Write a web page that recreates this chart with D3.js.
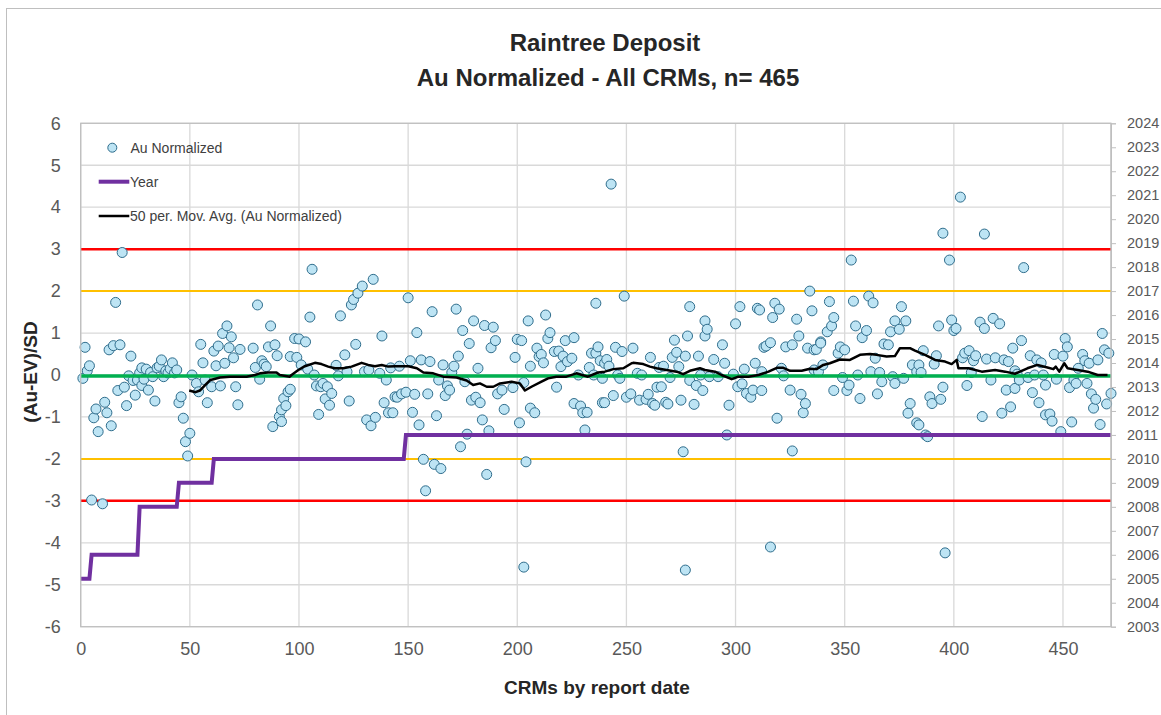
<!DOCTYPE html>
<html><head><meta charset="utf-8">
<script src="https://cdn.jsdelivr.net/npm/d3@7"></script>
<style>
html,body{margin:0;padding:0;background:#fff;}
svg{display:block;font-family:"Liberation Sans",Arial,sans-serif;}
</style></head>
<body><svg id="chart" width="1161" height="715"></svg>
<script>
// ---------- DATA ----------
const titleLines = ["Raintree Deposit", "Au Normalized - All CRMs, n= 465"];
const xTicks = [0,50,100,150,200,250,300,350,400,450];
const yTicks = [-6,-5,-4,-3,-2,-1,0,1,2,3,4,5,6];
const yearTicks = d3.range(2003, 2025);

// CRM index (report-date order) and normalized Au values
const crmIdx = [1,2,3,4,5,6,7,8,10,11,12,13,14,15,16,17,18,19,20,21,22,23,24,25,26,27,28,28,29,30,31,32,33,34,35,36,37,38,39,40,41,42,43,44,45,46,47,48,49,
50,51,53,54,55,56,57,58,60,61,62,63,64,65,66,67,68,69,70,71,72,73,79,80,81,82,83,84,85,86,87,88,89,90,91,92,92,93,94,95,
96,96,98,99,100,101,103,104,105,106,107,108,109,110,111,112,113,114,115,117,118,119,121,122,123,124,125,126,127,129,130,131,132,133,134,135,137,138,139,140,141,142,143,144,
145,146,147,149,150,151,152,153,154,155,156,157,158,159,160,161,162,163,164,165,166,167,168,169,170,171,172,173,174,175,176,177,178,179,180,181,182,183,184,185,186,187,188,189,190,
191,193,194,198,199,200,201,202,203,203,204,205,206,206,208,209,210,211,212,213,214,215,217,218,219,220,221,222,223,225,226,226,228,229,230,231,232,233,234,235,236,236,237,238,239,240,243,
239,240,241,242,244,245,246,247,248,249,250,252,253,255,256,257,259,260,261,262,263,264,265,266,267,268,269,270,271,272,273,274,275,276,277,277,278,279,279,281,282,283,284,285,286,286,287,
288,290,292,294,295,296,297,299,300,301,302,303,304,305,307,308,309,310,311,312,312,313,314,316,316,317,318,319,320,321,322,323,325,326,326,328,329,330,331,332,333,334,335,336,
336,337,338,339,339,340,342,343,344,345,345,347,348,349,350,351,352,353,354,355,356,357,358,360,361,362,363,364,365,366,367,368,370,371,372,373,373,375,376,377,378,379,380,381,383,383,384,
384,385,386,387,388,389,390,391,392,393,394,395,395,396,398,399,400,401,403,404,405,406,407,408,409,410,412,413,414,414,415,417,418,419,421,422,423,424,425,426,427,428,428,429,430,431,432,
434,435,436,437,438,439,440,441,442,442,444,445,446,447,449,450,451,452,453,454,455,456,457,459,460,461,462,463,464,465,466,467,468,469,470,471,472];
const auNorm = [-0.08,0.66,0.10,0.22,-2.98,-1.02,-0.81,-1.35,-3.07,-0.65,-0.90,0.60,-1.21,0.70,1.73,-0.37,0.72,2.92,-0.29,-0.73,-0.02,0.45,-0.13,-0.48,-0.12,0.05,0.17,-0.25,-0.10,0.14,-0.36,0.06,-0.04,-0.62,0.17,0.21,0.36,-0.04,0.10,0.05,0.15,0.29,0.05,0.12,-0.66,-0.52,-1.03,-1.59,-1.93,
-1.39,0.00,-0.20,-0.40,0.73,0.29,-0.12,-0.66,-0.28,0.57,0.22,0.69,-0.26,0.99,0.28,1.17,0.65,0.91,0.41,-0.28,-0.71,0.61,0.64,0.18,1.67,-0.10,0.34,0.26,0.20,0.67,1.17,-1.23,0.72,0.46,-0.99,-0.83,-1.11,-0.56,-0.73,-0.40,
0.44,-0.34,0.87,0.42,0.86,0.24,0.79,0.14,1.38,2.52,0.00,-0.26,-0.94,-0.28,-0.20,-0.57,-0.28,-0.72,-0.44,0.23,-0.02,1.41,0.48,0.08,-0.62,1.67,1.80,0.73,1.95,2.12,0.08,-1.07,0.12,-1.21,2.28,-1.01,0.04,0.93,-0.66,-0.12,-0.90,0.17,-0.90,-0.52,
-0.53,0.21,-0.45,-0.41,1.84,0.34,-0.89,-0.46,1.01,-1.19,0.36,-2.01,-2.76,-0.45,0.32,1.51,-2.13,-0.97,-0.12,-2.23,0.24,-0.49,-0.26,-0.36,0.06,0.21,1.57,0.45,-1.71,1.06,-0.16,-1.41,0.75,-0.60,1.29,-0.53,0.16,-0.66,-1.07,1.18,-2.37,-1.33,0.65,1.14,0.82,
-0.45,-0.36,-0.82,-0.30,0.42,0.85,-1.14,0.82,-0.18,-4.58,-2.07,1.29,0.21,-0.79,-0.90,0.64,0.44,0.49,0.29,1.43,0.87,1.01,0.56,-0.29,0.57,0.20,0.45,0.82,0.32,0.40,0.89,-0.68,0.00,-0.74,-0.90,-1.31,-0.89,0.18,0.52,0.00,0.52,1.71,0.67,0.34,-0.66,0.28,4.55,
-0.08,-0.66,0.37,0.21,-0.49,0.66,0.00,-0.08,0.56,1.88,-0.53,-0.45,0.64,0.04,-0.60,0.00,-0.58,-0.46,0.42,-0.68,-0.72,-0.29,0.18,-0.28,0.21,-0.65,-0.69,-0.06,0.42,0.83,0.54,0.20,-0.60,-1.83,0.45,-4.65,0.93,1.63,-0.13,-0.70,-0.25,0.45,0.00,-0.37,1.29,0.93,1.09,
-0.04,0.37,-0.04,0.72,0.28,-1.43,-0.72,0.02,1.22,-0.28,1.63,-0.21,0.14,-0.44,-0.53,-0.36,0.28,1.59,1.55,0.08,-0.37,0.66,0.69,0.77,-4.10,1.37,1.71,-1.03,1.57,0.16,-0.02,0.67,-0.36,0.72,-1.81,1.33,0.93,-0.46,-0.90,-0.68,0.64,2.00,1.53,0.60,
0.12,0.61,0.08,0.79,0.76,0.24,1.03,1.75,1.17,1.37,-0.37,0.52,0.67,-0.06,0.60,-0.37,-0.24,2.74,1.76,1.17,0.00,-0.56,0.89,1.06,1.88,0.08,1.72,0.40,-0.45,0.06,-0.16,0.74,0.72,1.03,-0.04,1.29,-0.20,1.09,1.63,-0.08,1.29,-0.91,-0.68,0.24,0.08,-1.14,-1.19,
0.24,0.06,0.58,-1.43,-1.47,-0.52,-0.68,0.26,0.46,1.17,-0.58,-0.29,3.38,-4.24,2.74,1.31,1.06,1.11,4.24,0.41,0.52,-0.25,0.58,0.06,0.34,0.46,1.26,-0.99,1.11,3.36,0.38,-0.12,1.35,0.41,1.22,-0.91,0.36,-0.36,0.32,-0.76,0.64,0.10,-0.32,0.02,-0.12,0.82,2.56,
-0.06,0.46,-0.42,0.00,0.36,-0.66,0.29,0.00,-0.24,-0.95,-0.93,-1.10,0.49,-0.10,-1.35,0.45,0.87,0.67,-0.30,-1.12,-0.12,-0.20,0.16,0.49,0.34,-0.20,0.28,-0.45,-0.79,-0.58,0.36,-1.18,0.99,0.60,-0.69,0.52,-0.44];

// Year step line
const yearStartIdx = [0, 5, 27, 45, 61, 149];
const yearValue = [2005, 2006, 2008, 2009, 2010, 2011];
const lastIdx = 472;

// 50 per. moving average
const maIdx = [49.7,52.6,54.6,57,59.3,60.8,63.8,68.4,73,76,79.8,82.1,85.9,89.7,91.2,95.8,96.6,99.7,102.7,107.3,110.3,113.4,116.4,120.3,124.1,128.7,131.7,134.8,137.9,140.9,143.9,146.3,150.1,154,157,161.5,166.1,172.2,176.8,179.8,182.9,186,189,192.1,197.4,201.2,203.5,206.5,211.1,214.1,217.9,222.5,227.1,232.4,237,240.1,244,248.6,252.4,253.1,257.7,260.8,263.8,268.4,273,276,279.1,283.7,286,290.6,293.6,298.2,301.3,305.9,310.5,315.1,318.9,321.9,325,330.3,334.1,337.1,340.2,343.2,347.8,352.4,357,361.6,364.6,369.2,373,375.3,379.9,382.2,386.8,391.4,396,399,401.3,402.1,406.7,412.8,418.9,423.5,428,433.7,438.3,442.9,445.6,446.7,448.3,450.6,452.1,456.7,461.3,465.9,470.4];
const maVal = [-0.37,-0.41,-0.37,-0.24,-0.12,-0.10,-0.06,-0.04,-0.04,-0.04,0,0.04,0.06,0.06,0,-0.04,0,0.12,0.21,0.29,0.26,0.20,0.16,0.16,0.20,0.29,0.24,0.21,0.24,0.20,0.21,0.21,0.21,0.16,0.06,0.04,-0.04,-0.06,-0.13,-0.24,-0.20,-0.28,-0.28,-0.20,-0.16,-0.20,-0.37,-0.28,-0.16,-0.08,-0.04,-0.04,0.04,-0.04,0.06,0.08,0.14,0.16,0.28,0.29,0.26,0.20,0.16,0.12,0.08,0.02,0.10,0.16,0.12,0.08,0,-0.10,-0.04,-0.04,0,0.08,0.17,0.17,0.10,0.10,0.15,0.14,0.24,0.28,0.37,0.36,0.48,0.50,0.48,0.44,0.45,0.64,0.64,0.58,0.48,0.36,0.32,0.26,0.36,0.16,0.16,0.08,0.12,0.08,0.03,0.16,0.24,0.18,0.14,0.20,0.08,0.28,0.16,0.12,0.08,0,0];

// control limits
const redLimits = [3, -3];
const orangeLimits = [2, -2];
const centerLine = 0;

// ---------- DRAW ----------
const svg = d3.select("#chart");
const L = 80.7, R = 1111, T = 123.3, B = 626.7;
const x = d3.scaleLinear().domain([0, 472]).range([L, R]);
const y = d3.scaleLinear().domain([-6, 6]).range([B, T]);
const yr = d3.scaleLinear().domain([2003, 2024]).range([B, T]);

svg.append("rect").attr("x",6.5).attr("y",8.5).attr("width",1170).attr("height",720)
  .attr("fill","#fff").attr("stroke","#bfbfbf").attr("stroke-width",1);

const grid = svg.append("g");
grid.selectAll(".gy").data(yTicks).join("line")
  .attr("x1",L).attr("x2",R).attr("y1",d=>y(d)).attr("y2",d=>y(d))
  .attr("stroke","#d9d9d9").attr("stroke-width",1.3);
grid.selectAll(".gx").data(xTicks.concat([472])).join("line")
  .attr("y1",T).attr("y2",B).attr("x1",d=>x(d)).attr("x2",d=>x(d))
  .attr("stroke","#d9d9d9").attr("stroke-width",1.3);

// axes
const gl = svg.append("g").attr("transform",`translate(${L},0)`)
  .call(d3.axisLeft(y).tickValues(yTicks).tickSize(0).tickPadding(20).tickFormat(d=>String(d)));
const gb = svg.append("g").attr("transform",`translate(0,${B})`)
  .call(d3.axisBottom(x).tickValues(xTicks).tickSize(0).tickPadding(16).tickFormat(d=>String(d)));
const gr = svg.append("g").attr("transform",`translate(${R},0)`)
  .call(d3.axisRight(yr).tickValues(yearTicks).tickSize(5).tickPadding(11).tickFormat(d3.format("d")));
[gl,gb].forEach(g=>{g.select(".domain").remove();
  g.selectAll("text").attr("font-size",18).attr("fill","#595959").attr("font-family","Liberation Sans, Arial, sans-serif");});
gr.select(".domain").attr("stroke","#bfbfbf");
gr.selectAll(".tick line").attr("stroke","#bfbfbf");
gr.selectAll("text").attr("font-size",14.5).attr("fill","#595959").attr("font-family","Liberation Sans, Arial, sans-serif");

// limit lines
const lim = svg.append("g");
lim.selectAll(".o").data(orangeLimits).join("line")
  .attr("x1",L).attr("x2",R).attr("y1",d=>y(d)).attr("y2",d=>y(d))
  .attr("stroke","#FFC000").attr("stroke-width",2);
lim.selectAll(".r").data(redLimits).join("line")
  .attr("x1",L).attr("x2",R).attr("y1",d=>y(d)).attr("y2",d=>y(d))
  .attr("stroke","#FF0000").attr("stroke-width",2.5);

// points
const pts = crmIdx.map((c,i)=>[c, auNorm[i]]);
svg.append("g").selectAll("circle").data(pts).join("circle")
  .attr("cx",d=>x(d[0])).attr("cy",d=>y(d[1])).attr("r",5)
  .attr("fill","#BDE4F4").attr("stroke","#2F6D8C").attr("stroke-width",1);

// center line
svg.append("line").attr("x1",L).attr("x2",R).attr("y1",y(centerLine)+1).attr("y2",y(centerLine)+1)
  .attr("stroke","#00B050").attr("stroke-width",3.5);

// year step line
const yearPts = [];
yearStartIdx.forEach((s,k)=>{
  yearPts.push([s, yearValue[k]]);
  const e = k < yearStartIdx.length-1 ? yearStartIdx[k+1]-1 : lastIdx;
  yearPts.push([e, yearValue[k]]);
});
svg.append("path").datum(yearPts)
  .attr("d", d3.line().x(d=>x(d[0])).y(d=>yr(d[1])))
  .attr("fill","none").attr("stroke","#7030A0").attr("stroke-width",4).attr("stroke-linejoin","miter");

// moving average
svg.append("path").datum(maIdx.map((c,i)=>[c, maVal[i]]))
  .attr("d", d3.line().x(d=>x(d[0])).y(d=>y(d[1])))
  .attr("fill","none").attr("stroke","#000").attr("stroke-width",2.5).attr("stroke-linejoin","round");

// plot border
svg.append("rect").attr("x",L).attr("y",T).attr("width",R-L).attr("height",B-T)
  .attr("fill","none").attr("stroke","#bfbfbf").attr("stroke-width",1.3);

// legend
const lg = svg.append("g").attr("font-size",14).attr("fill","#404040");
lg.append("circle").attr("cx",112.3).attr("cy",147.7).attr("r",4.5)
  .attr("fill","#BDE4F4").attr("stroke","#2F6D8C").attr("stroke-width",1);
lg.append("text").attr("x",130.5).attr("y",152.5).text("Au Normalized");
lg.append("line").attr("x1",98.7).attr("x2",129.3).attr("y1",181.7).attr("y2",181.7)
  .attr("stroke","#7030A0").attr("stroke-width",4);
lg.append("text").attr("x",130).attr("y",186.5).text("Year");
lg.append("line").attr("x1",98.7).attr("x2",129.3).attr("y1",216).attr("y2",216)
  .attr("stroke","#000").attr("stroke-width",2.5);
lg.append("text").attr("x",130).attr("y",221).text("50 per. Mov. Avg. (Au Normalized)");

// titles
svg.append("text").attr("x",605).attr("y",51).attr("text-anchor","middle")
  .attr("font-size",24).attr("font-weight","bold").attr("fill","#262626").text(titleLines[0]);
svg.append("text").attr("x",608).attr("y",86).attr("text-anchor","middle")
  .attr("font-size",24).attr("font-weight","bold").attr("fill","#262626").text(titleLines[1]);
svg.append("text").attr("transform","translate(37,372) rotate(-90)").attr("text-anchor","middle")
  .attr("font-size",19).attr("font-weight","bold").attr("fill","#262626").text("(Au-EV)/SD");
svg.append("text").attr("x",597).attr("y",694).attr("text-anchor","middle")
  .attr("font-size",19).attr("font-weight","bold").attr("fill","#262626").text("CRMs by report date");
</script></body></html>
